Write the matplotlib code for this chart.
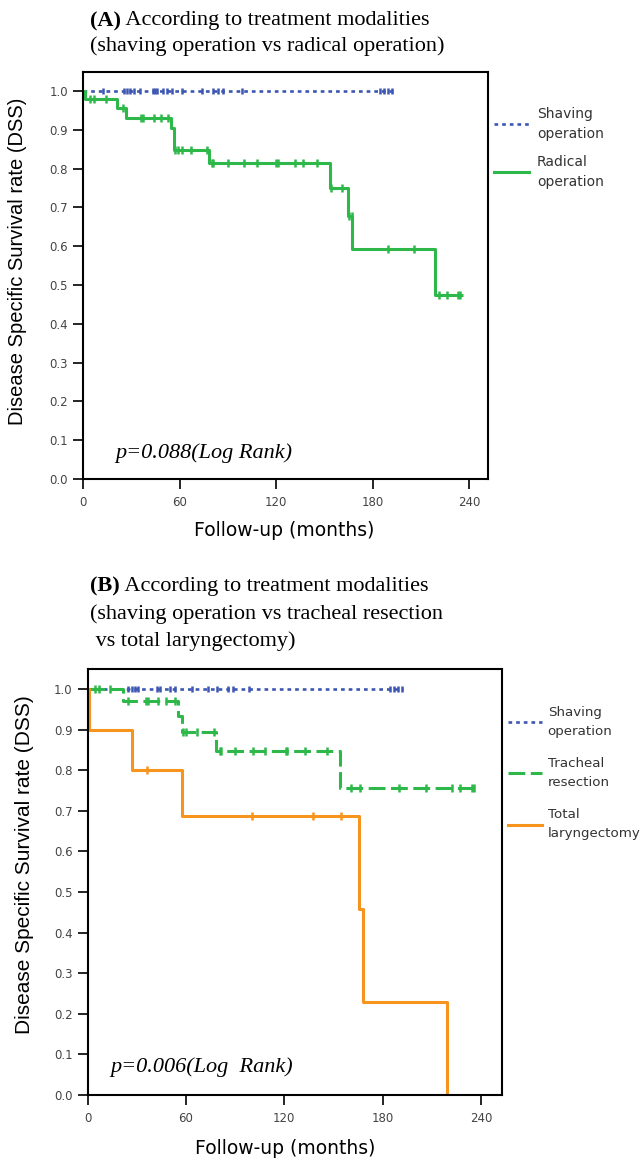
import numpy as np
import matplotlib
matplotlib.use("Agg")
import matplotlib.pyplot as plt
from matplotlib.lines import Line2D

# ---------------- data ----------------
# Panel A : shaving vs radical operation
a_shav_times = [0.0]
a_shav_surv = [1.0]
a_shav_end = 192.4
a_shav_censor = [12.0, 25.3, 27.0, 29.1, 31.5, 35.3, 43.2, 44.6, 46.1, 49.8, 52.3, 55.0,
                 61.2, 73.7, 80.9, 84.0, 86.7, 98.6, 184.6, 187.1, 189.8, 191.9]

a_rad_times = [0.0, 0.8, 20.7, 26.6, 54.5, 56.6, 78.2, 153.8, 165.0, 167.5, 218.9]
a_rad_surv = [1.0, 0.979, 0.957, 0.931, 0.904, 0.848, 0.814, 0.751, 0.679, 0.593, 0.474]
a_rad_end = 236.3
a_rad_censor = [4.2, 6.9, 13.9, 24.9, 35.9, 37.3, 44.2, 48.1, 52.9, 57.1, 59.1, 61.6, 66.8,
                76.8, 79.9, 80.9, 89.8, 99.7, 107.8, 120.2, 121.2, 132.0, 136.8, 145.7,
                154.2, 160.7, 165.2, 166.9, 189.7, 205.6, 221.4, 226.6, 233.2, 234.7]

# Panel B : shaving vs tracheal resection vs total laryngectomy
b_shav_times = [0.0]
b_shav_surv = [1.0]
b_shav_end = 192.5
b_shav_censor = [24.8, 26.8, 28.9, 30.9, 42.1, 44.1, 50.2, 53.3, 63.5, 73.6, 78.7, 85.8,
                 88.8, 98.6, 184.4, 187.1, 189.5, 191.6]

b_tra_times = [0.0, 21.7, 55.3, 57.3, 78.0, 154.0]
b_tra_surv = [1.0, 0.970, 0.933, 0.895, 0.848, 0.755]
b_tra_end = 236.9
b_tra_censor = [4.5, 7.1, 13.6, 24.8, 35.8, 36.8, 43.0, 47.8, 53.3, 58.4, 60.0, 66.5, 77.0,
                80.5, 81.5, 89.9, 100.7, 108.2, 120.8, 121.8, 132.6, 145.8, 160.4, 166.1,
                190.1, 206.2, 222.1, 227.2, 234.3, 235.5]

b_tot_times = [0.0, 1.0, 27.2, 57.3, 165.3, 168.2, 219.4]
b_tot_surv = [1.0, 0.9, 0.8, 0.687, 0.457, 0.228, 0.0]
b_tot_end = 219.4
b_tot_censor = [36.4, 100.2, 137.3, 154.4]

x_ticks = [0, 60, 120, 180, 240]
y_ticks = [0.0, 0.1, 0.2, 0.3, 0.4, 0.5, 0.6, 0.7, 0.8, 0.9, 1.0]

BLUE = "#3E57B3"
GREEN = "#2EB84A"
ORANGE = "#F7941D"

# ---------------- helpers ----------------
def km_xy(times, surv, end):
    return list(times) + [end], list(surv) + [surv[-1]]

def surv_at(times, surv, t):
    idx = np.searchsorted(np.asarray(times), np.asarray(t), side="right") - 1
    return np.asarray(surv)[idx]

def draw_km(ax, times, surv, end, censor, color, lw, ms=6, **ls):
    x, y = km_xy(times, surv, end)
    ax.step(x, y, where="post", color=color, lw=lw, solid_capstyle="butt",
            dash_capstyle="butt", **ls)
    ax.plot(censor, surv_at(times, surv, censor), linestyle="none", marker="|",
            ms=ms, mew=1.8, color=color)

def style_axes(ax, xmax):
    ax.set_xlim(0, xmax)
    ax.set_ylim(0, 1.05)
    ax.set_xticks(x_ticks)
    ax.set_yticks(y_ticks)
    ax.set_yticklabels([f"{v:.1f}" for v in y_ticks])
    for s in ax.spines.values():
        s.set_linewidth(1.5)
        s.set_color("black")
    ax.tick_params(direction="out", length=7, width=1.2, color="black",
                   labelsize=8.5, labelcolor="#444444", pad=4)
    ax.tick_params(axis="x", pad=5)

fig = plt.figure(figsize=(6.43, 11.59), dpi=100)
W, H = 643.0, 1159.0

def axes_px(l, t, r, b):
    return fig.add_axes([l / W, 1 - b / H, (r - l) / W, (b - t) / H])

# ---------------- panel A ----------------
axA = axes_px(83.3, 71.7, 488.3, 479.0)
draw_km(axA, a_shav_times, a_shav_surv, a_shav_end, a_shav_censor, BLUE, 1.9, ms=5,
        dashes=(1.4, 1.5))
draw_km(axA, a_rad_times, a_rad_surv, a_rad_end, a_rad_censor, GREEN, 2.2)
style_axes(axA, 252)
axA.set_xlabel("Follow-up (months)", fontsize=13.5, family="DejaVu Sans")
axA.xaxis.set_label_coords(0.497, -(530 - 479) / 407.3)
axA.xaxis.label.set_va("center")
axA.set_ylabel("Disease Specific Survival rate (DSS)", fontsize=14.5, family="Liberation Sans")
axA.yaxis.set_label_coords((18 - 83.3) / 405, (479 - 261) / 407.3)
axA.yaxis.label.set_va("center")
axA.text((115 - 83.3) / 405, (479 - 453) / 407.3, "p=0.088(Log Rank)", transform=axA.transAxes,
         family="Liberation Serif", style="italic", fontsize=16, ha="left", va="center")
hA = [Line2D([], [], color=BLUE, lw=1.9, dashes=(1.4, 1.5)),
      Line2D([], [], color=GREEN, lw=2.2)]
legA = axA.legend(hA, ["Shaving\noperation", "Radical\noperation"], loc="upper left",
                  bbox_to_anchor=(1.0, 0.928), frameon=False, fontsize=10, handlelength=2.5,
                  handletextpad=0.6, borderpad=0.2, borderaxespad=0.2, labelspacing=1.0)
for t in legA.get_texts():
    t.set_color("#333333")
    t.set_linespacing(1.55)

# ---------------- panel B ----------------
axB = axes_px(87.7, 668.7, 502.3, 1095.0)
draw_km(axB, b_shav_times, b_shav_surv, b_shav_end, b_shav_censor, BLUE, 1.9, ms=5,
        dashes=(1.4, 1.5))
draw_km(axB, b_tra_times, b_tra_surv, b_tra_end, b_tra_censor, GREEN, 2.2,
        dashes=(5.5, 1.8))
draw_km(axB, b_tot_times, b_tot_surv, b_tot_end, b_tot_censor, ORANGE, 2.2)
style_axes(axB, 253)
axB.set_xlabel("Follow-up (months)", fontsize=13.5, family="DejaVu Sans")
axB.xaxis.set_label_coords((285 - 87.7) / 414.6, -(1148 - 1095) / 426.3)
axB.xaxis.label.set_va("center")
axB.set_ylabel("Disease Specific Survival rate (DSS)", fontsize=15, family="Liberation Sans")
axB.yaxis.set_label_coords((25 - 87.7) / 414.6, (1095 - 865) / 426.3)
axB.yaxis.label.set_va("center")
axB.text((110 - 87.7) / 414.6, (1095 - 1067) / 426.3, "p=0.006(Log  Rank)",
         transform=axB.transAxes, family="Liberation Serif", style="italic", fontsize=16,
         ha="left", va="center")
hB = [Line2D([], [], color=BLUE, lw=1.9, dashes=(1.4, 1.5)),
      Line2D([], [], color=GREEN, lw=2.2, dashes=(5.5, 1.8)),
      Line2D([], [], color=ORANGE, lw=2.2)]
legB = axB.legend(hB, ["Shaving\noperation", "Tracheal\nresection", "Total\nlaryngectomy"],
                  loc="upper left", bbox_to_anchor=(1.0, 0.926), frameon=False, fontsize=9.6,
                  handlelength=2.6, handletextpad=0.4, borderpad=0.2, borderaxespad=0.2,
                  labelspacing=1.45)
for t in legB.get_texts():
    t.set_color("#333333")
    t.set_linespacing(1.6)

# ---------------- titles ----------------
def title_block(x_px, lines_y, first_bold, first_rest, other_lines):
    tb = fig.text(x_px / W, 1 - lines_y[0] / H, first_bold, family="Liberation Serif",
                  weight="bold", fontsize=16, ha="left", va="center")
    fig.canvas.draw()
    bb = tb.get_window_extent()
    fig.text(bb.x1 / W, 1 - lines_y[0] / H, first_rest, family="Liberation Serif",
             fontsize=16, ha="left", va="center")
    for yy, txt in zip(lines_y[1:], other_lines):
        fig.text(x_px / W, 1 - yy / H, txt, family="Liberation Serif", fontsize=16,
                 ha="left", va="center")

title_block(90, [21, 46], "(A)", " According to treatment modalities",
            ["(shaving operation vs radical operation)"])
title_block(90, [586, 614, 641], "(B)", " According to treatment modalities",
            ["(shaving operation vs tracheal resection", " vs total laryngectomy)"])

fig.savefig("out.png", dpi=100)
